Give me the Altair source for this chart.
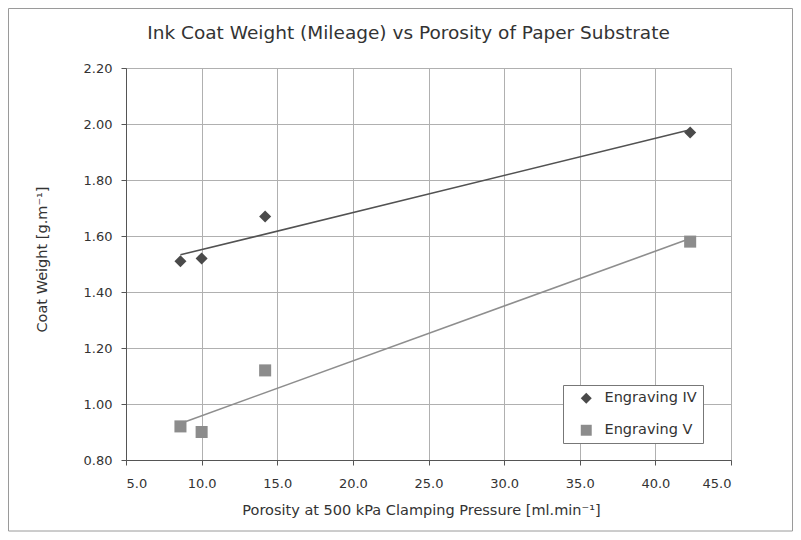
import altair as alt
import pandas as pd

# Data
porosity = [8.6, 10.0, 14.2, 42.3]
engraving_iv = [1.51, 1.52, 1.67, 1.97]
engraving_v = [0.92, 0.90, 1.12, 1.58]
series_names = ["Engraving IV", "Engraving V"]
x_ticks = [5.0, 10.0, 15.0, 20.0, 25.0, 30.0, 35.0, 40.0, 45.0]
y_ticks = [0.80, 1.00, 1.20, 1.40, 1.60, 1.80, 2.00, 2.20]

rows = []
for x, y in zip(porosity, engraving_iv):
    rows.append({"porosity": x, "weight": y, "series": series_names[0]})
for x, y in zip(porosity, engraving_v):
    rows.append({"porosity": x, "weight": y, "series": series_names[1]})
df = pd.DataFrame(rows)

FONT = "DejaVu Sans"
marker_colors = ["#4a4a4a", "#8c8c8c"]
line_colors = ["#525252", "#8e8e8e"]

x_enc = alt.X(
    "porosity:Q",
    scale=alt.Scale(domain=[5, 45], nice=False, zero=False),
    axis=alt.Axis(
        values=x_ticks, format=".1f",
        title="Porosity at 500 kPa Clamping Pressure [ml.min⁻¹]",
        titleX=295, titleY=50, titleBaseline="middle", titleAlign="center",
        labelPadding=12,
    ),
)
y_enc = alt.Y(
    "weight:Q",
    scale=alt.Scale(domain=[0.8, 2.2], nice=False, zero=False),
    axis=alt.Axis(
        values=y_ticks, format=".2f",
        title="Coat Weight [g.m⁻¹]",
        titleX=-84, titleY=191, titleBaseline="middle", titleAlign="center",
        titleAngle=270, labelPadding=9,
    ),
)

legend = alt.Legend(title=None, labelExpr="datum.label + '   '")

points = alt.Chart(df).mark_point(filled=True, opacity=1, size=145).encode(
    x=x_enc,
    y=y_enc,
    color=alt.Color("series:N", scale=alt.Scale(domain=series_names, range=marker_colors), legend=legend),
    shape=alt.Shape("series:N", scale=alt.Scale(domain=series_names, range=["diamond", "square"]), legend=legend),
)

lines = alt.Chart(df).transform_regression(
    "porosity", "weight", groupby=["series"]
).transform_calculate(
    trend="datum.series + ' trend'"
).mark_line(strokeWidth=1.6).encode(
    x="porosity:Q",
    y="weight:Q",
    stroke=alt.Stroke(
        "trend:N",
        scale=alt.Scale(domain=[s + " trend" for s in series_names], range=line_colors),
        legend=None,
    ),
)

frame = alt.Chart(pd.DataFrame({"a": [0]})).mark_rect(
    fill=None, stroke="#9a9a9a", strokeWidth=1, clip=False
).encode(
    x=alt.value(-117.5), x2=alt.value(666.5), y=alt.value(-59.5), y2=alt.value(463)
)

chart = alt.layer(frame, lines, points).properties(
    width=605,
    height=392,
    background="white",
    title=alt.TitleParams(
        "Ink Coat Weight (Mileage) vs Porosity of Paper Substrate",
        fontSize=18.5, font=FONT, fontWeight="normal", color="#333333",
        anchor="middle", frame="group", dx=-20, offset=0, dy=34.5,
    ),
    autosize=alt.AutoSizeParams(type="none"),
    padding={"left": 118, "top": 60, "right": 62, "bottom": 72},
).configure_view(
    stroke="#8a8a8a", strokeWidth=1
).configure_axis(
    labelFont=FONT, labelFontSize=13, labelColor="#333333",
    titleFont=FONT, titleFontSize=14.5, titleFontWeight="normal", titleColor="#333333",
    gridColor="#b0b0b0", gridWidth=1,
    domainColor="#555555", tickColor="#555555", tickSize=5,
).configure_legend(
    orient="none", legendX=437, legendY=317,
    strokeColor="#777777", fillColor="white", padding=6,
    labelFont=FONT, labelFontSize=14.5, labelColor="#333333",
    symbolSize=120, symbolOffset=10, rowPadding=17, labelOffset=11, cornerRadius=0,
    symbolStrokeWidth=0,
)

chart.save("out.html", embed_options={"renderer": "svg", "actions": False})
